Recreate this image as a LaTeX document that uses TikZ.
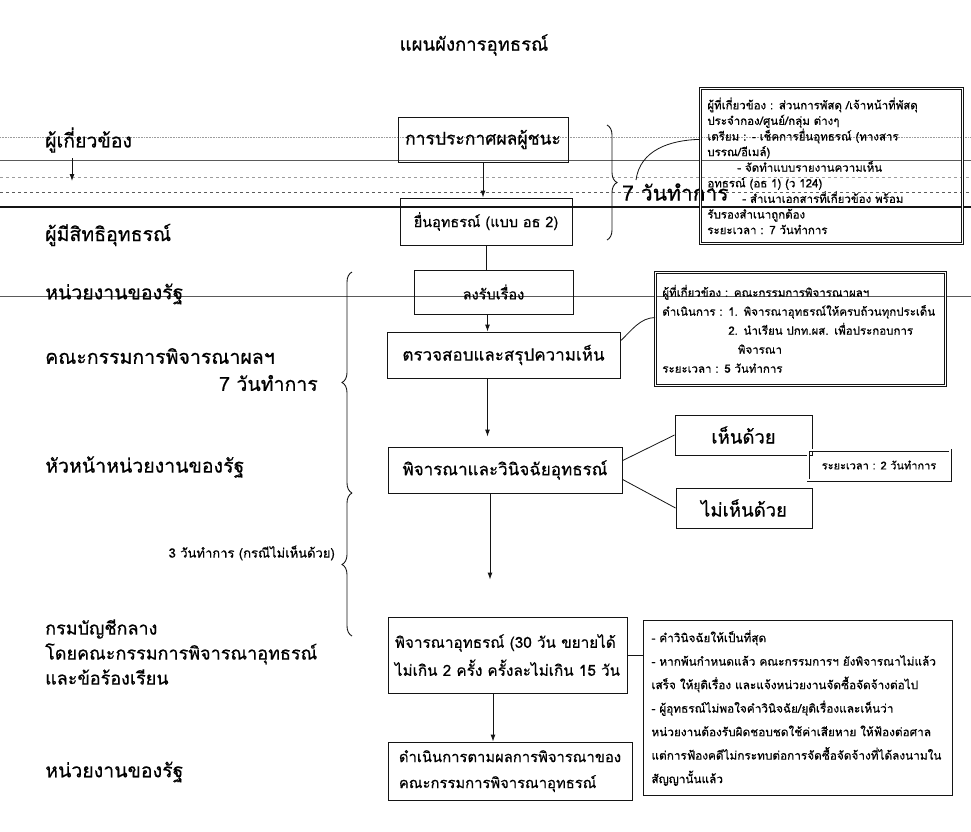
\documentclass[tikz,border=0pt]{standalone}
\usepackage{fontspec}
\setmainfont{Loma}[Script=Thai,FakeBold=0.6]
\usetikzlibrary{arrows.meta,decorations.pathreplacing,calc}
\definecolor{tinte}{HTML}{141414}
\definecolor{grau}{HTML}{5A5A5A}
\tikzset{
  box/.style={draw=tinte,line width=0.9pt,inner sep=3pt,align=center,font=\fontsize{17}{20}\selectfont},
  info/.style={draw=tinte,double,double distance=1.6pt,line width=0.7pt,align=left,anchor=north west,inner sep=7pt,font=\fontsize{11.5}{15.6}\selectfont},
  note/.style={draw=tinte,line width=0.9pt,align=left,anchor=north west,inner sep=8pt,font=\fontsize{11.8}{23.5}\selectfont},
  arr/.style={-{Latex[length=2.4mm,width=1.7mm]},tinte,line width=0.9pt},
  conn/.style={tinte,line width=0.8pt},
  lbl/.style={anchor=west,inner sep=0pt,font=\fontsize{19.5}{22}\selectfont},
  scanl/.style={grau,line width=0.6pt},
  klammer/.style={decorate,decoration={brace,amplitude=10pt},tinte,line width=0.9pt},
}
\begin{document}
\begin{tikzpicture}[x=1pt,y=-1pt]
  \useasboundingbox (0,0) rectangle (971,831);
  % Linien vom Scan
  \draw[scanl,densely dotted,grau!60] (0,137) -- (971,137);
  \draw[scanl] (0,160) -- (971,160);
  \draw[scanl,dashed,grau!60] (0,177) -- (971,177);
  \draw[scanl,dashed] (0,192) -- (971,192);
  \draw[tinte,line width=1.4pt] (0,207) -- (971,207);
  \draw[scanl,line width=0.9pt] (0,296) -- (971,296);

  \node[font=\fontsize{18.5}{20}\selectfont] (titel) at (474,45) {แผนผังการอุทธรณ์};

  % linke Spalte
  \node[lbl] (l1) at (45,140) {ผู้เกี่ยวข้อง};
  \node[lbl] (l2) at (45,235) {ผู้มีสิทธิอุทธรณ์};
  \node[lbl] (l3) at (45,294) {หน่วยงานของรัฐ};
  \node[lbl] (l4) at (45,356) {คณะกรรมการพิจารณาผลฯ};
  \node[lbl,anchor=east] (l5) at (318,383) {7 วันทำการ};
  \node[lbl] (l6) at (45,467) {หัวหน้าหน่วยงานของรัฐ};
  \node[lbl,anchor=east,font=\fontsize{13}{14}\selectfont] (l7) at (335,553) {3 วันทำการ (กรณีไม่เห็นด้วย)};
  \node[lbl,align=left,font=\fontsize{18}{25}\selectfont] (l8) at (45,652) {กรมบัญชีกลาง\\โดยคณะกรรมการพิจารณาอุทธรณ์\\และข้อร้องเรียน};
  \node[lbl] (l9) at (45,772) {หน่วยงานของรัฐ};
  \coordinate (p1) at (72,158);
  \coordinate (p2) at (72,181);
  \draw[arr] (p1) -- (p2);

  % Ablauf
  \node[box,minimum width=170,minimum height=45,font=\fontsize{17.5}{20}\selectfont] (b1) at (483,139.5) {การประกาศผลผู้ชนะ};
  \node[box,minimum width=172,minimum height=47,font=\fontsize{14.5}{18}\selectfont] (b2) at (486,221.5) {ยื่นอุทธรณ์ (แบบ อธ 2)};
  \node[box,minimum width=159,minimum height=44,font=\fontsize{14.5}{18}\selectfont] (b3) at (493.5,292) {ลงรับเรื่อง};
  \node[box,minimum width=233,minimum height=46] (b4) at (503.5,355) {ตรวจสอบและสรุปความเห็น};
  \node[box,minimum width=234,minimum height=46] (b5) at (505,470) {พิจารณาและวินิจฉัยอุทธรณ์};
  \node[box,minimum width=239,minimum height=76,align=left,font=\fontsize{15.3}{28}\selectfont] (b6) at (507.5,655) {พิจารณาอุทธรณ์ (30 วัน ขยายได้\\ไม่เกิน 2 ครั้ง ครั้งละไม่เกิน 15 วัน};
  \node[box,minimum width=244,minimum height=58,align=left,font=\fontsize{14.8}{26}\selectfont] (b7) at (510,771) {ดำเนินการตามผลการพิจารณาของ\\คณะกรรมการพิจารณาอุทธรณ์};

  \draw[arr] (b1) -- (b1 |- b2.north);
  \draw[conn] (b2.south) -- (b2.south |- b3.north);
  \draw[arr] ([xshift=-6pt]b3.south) -- ([xshift=-6pt]b3.south |- b4.north);
  \draw[arr,shorten >=10pt] ([xshift=-16pt]b4.south) -- ([xshift=-16pt]b4.south |- b5.north);
  \draw[arr,shorten >=37pt] ([xshift=-15pt]b5.south) -- ([xshift=-15pt]b5.south |- b6.north);
  \draw[arr] ([xshift=-14.5pt]b6.south) -- ([xshift=-14.5pt]b6.south |- b7.north);

  % Klammern
  \draw[klammer] (352,493) -- (352,272);
  \draw[klammer] (352,636) -- (352,493);
  \draw[klammer] (607,125) -- (607,240);
  \node[lbl,font=\fontsize{21}{22}\selectfont] (t7) at (622,192) {7 วันทำการ};

  % rechte Seite
  \node[info,minimum width=262,minimum height=155,text width=248] (inf1) at (700,88) {ผู้ที่เกี่ยวข้อง : ส่วนการพัสดุ /เจ้าหน้าที่พัสดุ\\
    ประจำกอง/ศูนย์/กลุ่ม ต่างๆ\\
    เตรียม : - เช็คการยื่นอุทธรณ์ (ทางสาร\\
    บรรณ/อีเมล์)\\
    \hspace*{30pt}- จัดทำแบบรายงานความเห็น\\
    อุทธรณ์ (อธ 1) (ว 124)\\
    \hspace*{35pt}- สำเนาเอกสารที่เกี่ยวข้อง พร้อม\\
    รับรองสำเนาถูกต้อง\\
    ระยะเวลา : 7 วันทำการ};
  \node[info,minimum width=290,minimum height=113,text width=276,font=\fontsize{11.5}{19}\selectfont] (inf2) at (655,272) {ผู้ที่เกี่ยวข้อง : คณะกรรมการพิจารณาผลฯ\\
    ดำเนินการ : 1. พิจารณาอุทธรณ์ให้ครบถ้วนทุกประเด็น\\
    \hphantom{ดำเนินการ : }2. นำเรียน ปกท.ผส. เพื่อประกอบการ\\
    \hphantom{ดำเนินการ : 2.}พิจารณา\\
    ระยะเวลา : 5 วันทำการ};
  \node[box,minimum width=137,minimum height=40,font=\fontsize{18.5}{20}\selectfont] (ja) at (743.5,435) {เห็นด้วย};
  \node[box,minimum width=136,minimum height=40,font=\fontsize{18.5}{20}\selectfont] (nein) at (744,508) {ไม่เห็นด้วย};
  \node[info,anchor=center,align=center,minimum width=142,minimum height=30,inner sep=3pt,font=\fontsize{11}{12}\selectfont] (t2) at (879,465) {ระยะเวลา : 2 วันทำการ};
  \node[note,minimum width=309,minimum height=175,text width=293] (inf3) at (643,620) {- คำวินิจฉัยให้เป็นที่สุด\\
    - หากพ้นกำหนดแล้ว คณะกรรมการฯ ยังพิจารณาไม่แล้ว\\
    เสร็จ ให้ยุติเรื่อง และแจ้งหน่วยงานจัดซื้อจัดจ้างต่อไป\\
    - ผู้อุทธรณ์ไม่พอใจคำวินิจฉัย/ยุติเรื่องและเห็นว่า\\
    หน่วยงานต้องรับผิดชอบชดใช้ค่าเสียหาย ให้ฟ้องต่อศาล\\
    แต่การฟ้องคดีไม่กระทบต่อการจัดซื้อจัดจ้างที่ได้ลงนามใน\\
    สัญญานั้นแล้ว};

  % Verbindungen rechts
  \coordinate (k1) at (636,180);
  \draw[conn] (k1) .. controls (640,150) and (670,140) .. ($(inf1.north west)!0.33!(inf1.south west)$);
  \draw[conn] ($(b4.north east)!0.2!(b4.south east)$) .. controls (632,330) and (640,318) .. ($(inf2.north west)!0.4!(inf2.south west)$);
  \draw[conn] ($(b5.north east)!0.3!(b5.south east)$) -- (ja.west);
  \draw[conn] ($(b5.north east)!0.7!(b5.south east)$) -- (nein.west);
  \draw[conn] (b6.east) -- (b6.east -| inf3.west);
\end{tikzpicture}
\end{document}
